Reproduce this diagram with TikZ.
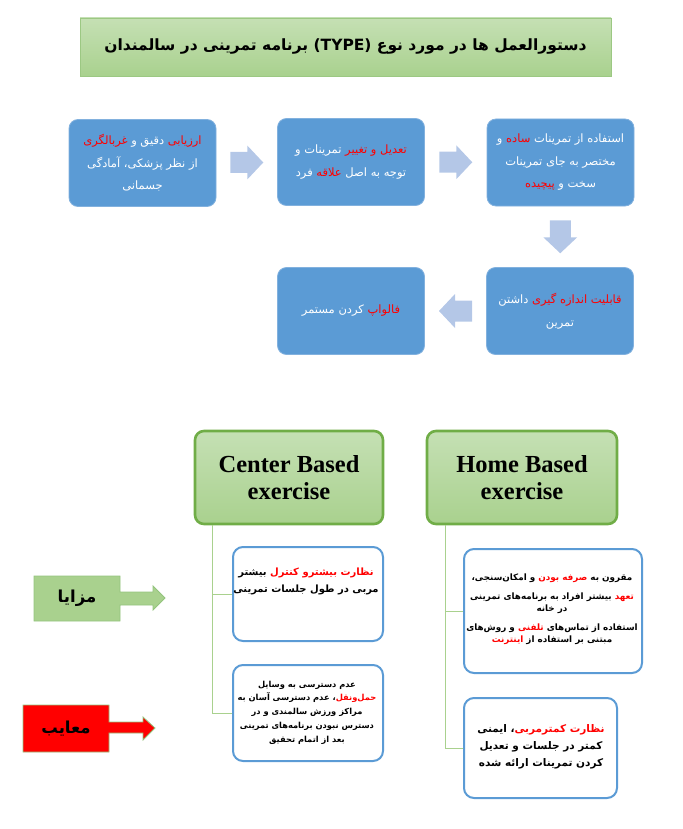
\documentclass[tikz,border=0pt]{standalone}
\usepackage{fontspec}
\setmainfont{Liberation Serif}
\newfontfamily\arabicfont[Script=Arabic]{DejaVu Sans}
\TeXXeTstate=1
\usetikzlibrary{calc}
\definecolor{gtop}{HTML}{C5E0B4}
\definecolor{gbot}{HTML}{A9D18E}
\definecolor{gborder}{HTML}{70AD47}
\definecolor{tborder}{HTML}{9CC883}
\definecolor{bfill}{HTML}{5B9BD5}
\definecolor{bedge}{HTML}{82B1DE}
\definecolor{afill}{HTML}{B4C7E7}
\definecolor{tline}{HTML}{A9D18E}
\definecolor{mzfill}{HTML}{A9D18E}
\definecolor{mzedge}{HTML}{93C47D}
% runs of right-to-left text; a line is written as its runs from left to right
\newcommand\RL[1]{\beginR #1\endR}
\newcommand\rd[1]{{\color{red}\beginR #1\endR}}
\newcommand\blockarrow[2]{%
  \begin{scope}[shift={(#1)},rotate=#2]
    \fill[afill] (-16.5,-10.5) -- (0.5,-10.5) -- (0.5,-17) -- (16.5,0) -- (0.5,17) -- (0.5,10.5) -- (-16.5,10.5) -- cycle;
  \end{scope}}
\begin{document}
\begin{tikzpicture}[x=1pt,y=-1pt,
  titlebox/.style={draw=tborder, line width=0.8pt, top color=gtop, bottom color=gbot,
    minimum width=531pt, minimum height=58pt, inner sep=0pt,
    font={\arabicfont\bfseries\fontsize{15.5}{20}\selectfont}},
  bluebox/.style={draw=bedge, line width=0.8pt, fill=bfill, rounded corners=9pt,
    minimum width=147pt, minimum height=87pt, inner sep=0pt, text=white, align=center,
    font={\arabicfont\fontsize{11.5}{22.5}\selectfont}},
  greenbox/.style={draw=gborder, line width=2.6pt, top color=gtop, bottom color=gbot,
    rounded corners=9pt, minimum height=93pt, inner sep=0pt, align=center,
    font={\bfseries\fontsize{24.5}{27}\selectfont}},
  whitebox/.style={draw=bfill, line width=2pt, fill=white, rounded corners=10pt, inner sep=0pt},
  wtext/.style={align=center, inner sep=0pt, text=black},
  tree/.style={draw=tline, line width=0.9pt},
  lbl/.style={inner sep=0pt, text=black, font={\arabicfont\bfseries\fontsize{16.5}{18}\selectfont}}
]
\useasboundingbox (0,0) rectangle (682,829);

% title
\node[titlebox] (title) at (345.5,47) {\RL{دستورالعمل ها در مورد نوع \beginL(TYPE)\endL{} برنامه تمرینی در سالمندان}};

% blue process boxes
\node[bluebox] (b1) at (142.5,163) {\rd{غربالگری} \RL{دقیق و} \rd{ارزیابی}\\\RL{از نظر پزشکی، آمادگی}\\\RL{جسمانی}};
\node[bluebox] (b2) at (351,162) {\RL{تمرینات و} \rd{تعدیل و تغییر}\\\RL{فرد} \rd{علاقه} \RL{توجه به اصل}};
\node[bluebox] (b3) at (560.5,162.5) {\RL{و} \rd{ساده} \RL{استفاده از تمرینات}\\\RL{مختصر به جای تمرینات}\\\rd{پیچیده} \RL{سخت و}};
\node[bluebox] (b4) at (560,311) {\RL{داشتن} \rd{قابلیت اندازه گیری}\\\RL{تمرین}};
\node[bluebox] (b5) at (351,311) {\RL{کردن مستمر} \rd{فالواپ}};

\coordinate (a1) at ($(b1.east)!0.5!(b2.west)$);
\coordinate (a2) at ($(b2.east)!0.5!(b3.west)$);
\coordinate (a3) at ($(b3.south)!0.5!(b4.north)$);
\coordinate (a4) at ($(b4.west)!0.5!(b5.east)$);
\blockarrow{a1}{0}
\blockarrow{a2}{0}
\blockarrow{a3}{-90}
\blockarrow{a4}{180}

% exercise type boxes
\node[greenbox, minimum width=188pt] (cb) at (289,477.5) {Center Based\\exercise};
\node[greenbox, minimum width=190pt] (hb) at (522,477.5) {Home Based\\exercise};

% white boxes
\node[whitebox, minimum width=150pt, minimum height=94pt] (c1) at (308,594) {};
\node[whitebox, minimum width=150pt, minimum height=96pt] (c2) at (308,713) {};
\node[whitebox, minimum width=178pt, minimum height=124pt] (h1) at (553,611) {};
\node[whitebox, minimum width=153pt, minimum height=100pt] (h2) at (540.5,748) {};

% tree connectors
\coordinate (ct) at ($(cb.south west)+(19,0)$);
\coordinate (ht) at ($(hb.south west)+(20,0)$);
\draw[tree] (ct) |- (c1.west);
\draw[tree] (ct) |- (c2.west);
\draw[tree] (ht) |- (h1.west);
\draw[tree] (ht) |- (h2.west);

% texts of the white boxes
\node[wtext, font={\arabicfont\bfseries\fontsize{10}{17}\selectfont}] (c1t) at (306,581.5)
  {\RL{بیشتر} \rd{نظارت بیشترو کنترل}\\\RL{مربی در طول جلسات تمرینی}};
\node[wtext, font={\arabicfont\bfseries\fontsize{8.3}{13.7}\selectfont}] (c2t) at (307,712.5)
  {\RL{عدم دسترسی به وسایل}\\\RL{، عدم دسترسی آسان به}\rd{حمل‌ونقل}\\\RL{مراکز ورزش سالمندی و در}\\\RL{دسترس نبودن برنامه‌های تمرینی}\\\RL{بعد از اتمام تحقیق}};
\node[wtext, font={\arabicfont\bfseries\fontsize{8.8}{11.5}\selectfont}] (h1t) at (552,609)
  {\RL{و امکان‌سنجی،} \rd{صرفه بودن} \RL{مقرون به}\\[8pt]\RL{بیشتر افراد به برنامه‌های تمرینی} \rd{تعهد}\\\RL{در خانه}\\[8pt]\RL{و روش‌های} \rd{تلفنی} \RL{استفاده از تماس‌های}\\\rd{اینترنت} \RL{مبتنی بر استفاده از}};
\node[wtext, font={\arabicfont\bfseries\fontsize{10.5}{17}\selectfont}] (h2t) at (541,747)
  {\RL{، ایمنی}\rd{نظارت کمترمربی}\\\RL{کمتر در جلسات و تعدیل}\\\RL{کردن تمرینات ارائه شده}};

% left labels
\filldraw[fill=mzfill, draw=mzedge, line width=0.8pt]
  (34,576) -- (120,576) -- (120,592) -- (153,592) -- (153,586) -- (165,598) -- (153,610)
  -- (153,605) -- (120,605) -- (120,621) -- (34,621) -- cycle;
\node[lbl] (mz) at (77,598.5) {\RL{مزایا}};
\filldraw[fill=red, draw=mzedge, line width=0.8pt]
  (23,705) -- (109,705) -- (109,722) -- (143,722) -- (143,717) -- (155,728) -- (143,740)
  -- (143,733) -- (109,733) -- (109,752) -- (23,752) -- cycle;
\node[lbl] (ma) at (66,728.5) {\RL{معایب}};
\end{tikzpicture}
\end{document}
